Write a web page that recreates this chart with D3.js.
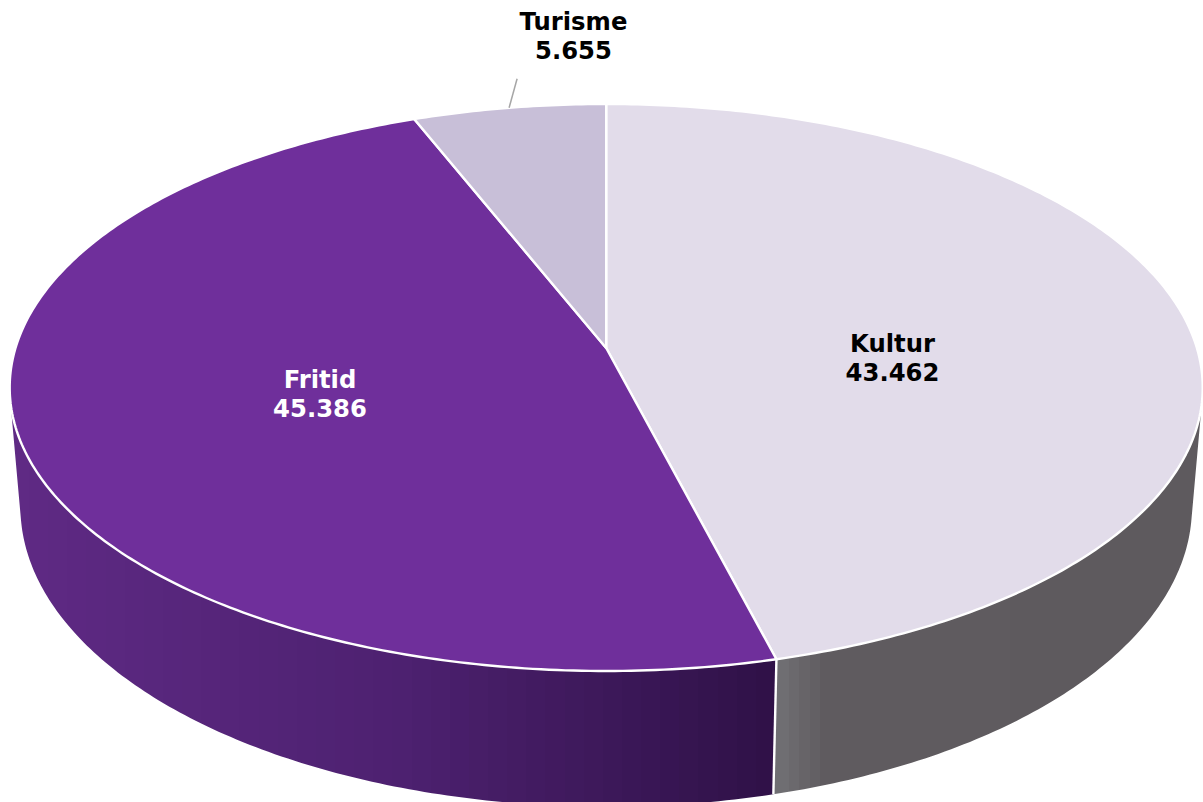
<!DOCTYPE html>
<html>
<head>
<meta charset="utf-8">
<script src="https://cdn.jsdelivr.net/npm/d3@7"></script>
<style>
  html, body { margin: 0; padding: 0; background: #fff; }
  text { font-family: "DejaVu Sans", sans-serif; font-weight: bold; font-size: 24.3px; }
</style>
</head>
<body>
<div id="chart"></div>
<script>
var categories = ['Kultur', 'Fritid', 'Turisme'];
var values = [43.462, 45.386, 5.655];
var valueLabels = ['43.462', '45.386', '5.655'];

var faceColors = ['#e2dcea', '#6f2f9b', '#c8bfd8'];
var textColors = ['#000000', '#ffffff', '#000000'];

// wall shading runs left to right across the picture
var wallColors = {
  Kultur: { x: [778, 825, 1200], c: ['#717074', '#5f5b5f', '#5e5a5e'] },
  Fritid: { x: [10, 400, 775], c: ['#5f2a85', '#4d2170', '#2f1147'] }
};

// label centres, first baseline and leader line offset
var labelPos = { Kultur: [892.5, 352], Fritid: [320, 388], Turisme: [573.5, 30] };
var leaderOffset = [8, -29];

var width = 1203, height = 802;

// perspective pie, the tilt makes the back smaller than the front
var cx = 606.2, cy = 348, radiusX = 590.7, radiusY = 278, tilt = 0.1393;
// lower rim of the wall
var rimX = 0.982, rimY = 1.058, rimDrop = 117;

function project(angle, sx, sy, dy) {
  var w = 1 + tilt * Math.cos(angle);
  return [
    cx + sx * radiusX * Math.sin(angle) / w,
    cy + dy - sy * radiusY * Math.cos(angle) / w
  ];
}
function topEdge(angle) { return project(angle, 1, 1, 0); }
function rimEdge(angle) { return project(angle, rimX, rimY, rimDrop); }

function steps(a0, a1) {
  var n = Math.max(2, Math.ceil((a1 - a0) / 0.012));
  return d3.range(n + 1).map(function(i) { return a0 + (a1 - a0) * i / n; });
}

var svg = d3.select('#chart').append('svg')
  .attr('width', width)
  .attr('height', height)
  .style('display', 'block');

var defs = svg.append('defs');
var pieData = d3.pie().sort(null).value(function(d) { return d; })(values);
var line = d3.line();

// walls, strips go in one path with the same winding so no seams show
pieData.forEach(function(d, i) {
  var wall = wallColors[categories[i]];
  if (!wall) return;
  var color = d3.scaleLinear().domain(wall.x).range(wall.c);
  var x0 = wall.x[0], x1 = wall.x[wall.x.length - 1];
  var bands = 40;
  var gradient = defs.append('linearGradient')
    .attr('id', 'wall' + i)
    .attr('gradientUnits', 'userSpaceOnUse')
    .attr('x1', x0).attr('x2', x1).attr('y1', 0).attr('y2', 0);
  d3.range(bands).forEach(function(b) {
    var c = color(x0 + (x1 - x0) * (b + 0.5) / bands);
    gradient.append('stop').attr('offset', b / bands).attr('stop-color', c);
    gradient.append('stop').attr('offset', (b + 1) / bands).attr('stop-color', c);
  });
  var a = steps(d.startAngle, d.endAngle);
  var strips = a.slice(1).map(function(v, j) {
    var quad = [topEdge(a[j]), topEdge(v), rimEdge(v), rimEdge(a[j])];
    if (d3.polygonArea(quad) < 0) quad.reverse();
    return line(quad) + 'Z';
  });
  svg.append('path')
    .attr('d', strips.join(''))
    .attr('fill', 'url(#wall' + i + ')');
});

// seam between the two walls
svg.append('path')
  .attr('d', line([topEdge(pieData[0].endAngle), rimEdge(pieData[0].endAngle)]))
  .attr('stroke', '#fff')
  .attr('stroke-width', 2.4)
  .attr('fill', 'none');

// top faces
svg.append('g').selectAll('path')
  .data(pieData)
  .enter().append('path')
  .attr('d', function(d) {
    var pts = steps(d.startAngle, d.endAngle).map(function(a) { return topEdge(a); });
    return line([[cx, cy]].concat(pts)) + 'Z';
  })
  .attr('fill', function(d, i) { return faceColors[i]; })
  .attr('stroke', '#fff')
  .attr('stroke-width', 2.4)
  .attr('stroke-linejoin', 'round');

// leader line for the small slice
var small = pieData[2];
var leaderStart = topEdge((small.startAngle + small.endAngle) / 2);
svg.append('line')
  .attr('x1', leaderStart[0])
  .attr('y1', leaderStart[1])
  .attr('x2', leaderStart[0] + leaderOffset[0])
  .attr('y2', leaderStart[1] + leaderOffset[1])
  .attr('stroke', '#a6a6a6')
  .attr('stroke-width', 1.5);

// labels
categories.forEach(function(name, i) {
  var label = svg.append('text')
    .attr('text-anchor', 'middle')
    .attr('fill', textColors[i]);
  label.append('tspan')
    .attr('x', labelPos[name][0])
    .attr('y', labelPos[name][1])
    .text(name);
  label.append('tspan')
    .attr('x', labelPos[name][0])
    .attr('y', labelPos[name][1] + 29)
    .text(valueLabels[i]);
});
</script>
</body>
</html>
